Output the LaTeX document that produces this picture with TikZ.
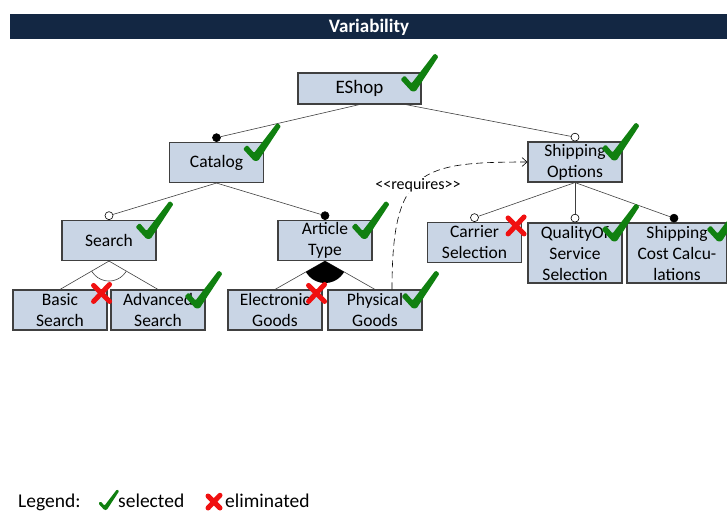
\documentclass[tikz,border=0pt]{standalone}
\usepackage{fontspec}
\setmainfont{Carlito}
\usetikzlibrary{arrows.meta,calc}
\definecolor{barblue}{RGB}{19,39,67}
\definecolor{featfill}{RGB}{201,213,229}
\definecolor{featline}{RGB}{64,64,64}
\definecolor{okgreen}{RGB}{16,128,16}
\definecolor{xred}{RGB}{240,16,16}

\begin{document}
\begin{tikzpicture}[x=1pt,y=-1pt]
		\tikzstyle{feat} = [draw=featline, fill=featfill, line width=1.1pt, minimum width=94pt, minimum height=40pt, inner sep=0pt, align=center, font=\fontsize{17.5}{21}\selectfont]
		\tikzstyle{rel} = [draw=featline, line width=0.6pt]
		\tikzstyle{mand} = [circle, draw=black, fill=black, line width=0.6pt, inner sep=0pt, minimum size=8pt, anchor=south]
		\tikzstyle{opt} = [mand, fill=white]
		\tikzstyle{lgd} = [anchor=base west, inner sep=0pt, font=\fontsize{19.5}{23}\selectfont]
		\tikzset{chk/.pic={\fill[okgreen, rounded corners=1.2pt] (-1,2) -- (-12,-10) -- (-8,-14) -- (-1,-6) -- (22,-36) -- (26,-33) -- (3,2) -- cycle;},
			elim/.pic={\draw[xred, line width=5pt, line cap=round] (-8,-8) -- (8,8) (8,-9) -- (-8,8);}}
		\useasboundingbox (0,0) rectangle (727,511);
		\fill[barblue] (10,14) rectangle (740,39);
		\node[text=white, font=\fontsize{19}{23}\selectfont\bfseries] (title) at (369,27) {Variability};
		\node[feat, minimum width=123pt, minimum height=31pt, font=\fontsize{19}{22}\selectfont] (eshop) at (359.5,88.5) {EShop};
		\node[feat] (catalog) at (216.5,162.5) {Catalog};
		\node[feat] (shipopt) at (575,162) {Shipping\\Options};
		\node[feat] (search) at (109,240.5) {Search};
		\node[feat] (arttype) at (325,240.5) {Article\\Type};
		\node[feat] (carrier) at (474.5,242.5) {Carrier\\Selection};
		\node[feat, minimum height=60pt] (qos) at (575,253) {QualityOf\\Service\\Selection};
		\node[feat, minimum width=100pt, minimum height=60pt] (shipcost) at (677,253) {Shipping\\Cost Calcu-\\lations};
		\node[feat] (basic) at (60,310) {Basic\\Search};
		\node[feat] (adv) at (158,310) {Advanced\\Search};
		\node[feat] (elec) at (275,310) {Electronic\\Goods};
		\node[feat] (phys) at (375,310) {Physical\\Goods};
		\node[mand] (catalogdot) at (catalog.north) {};
		\node[opt] (shipoptdot) at (shipopt.north) {};
		\node[opt] (searchdot) at (search.north) {};
		\node[mand] (arttypedot) at (arttype.north) {};
		\node[opt] (carrierdot) at (carrier.north) {};
		\node[opt] (qosdot) at (qos.north) {};
		\node[mand] (shipcostdot) at ([xshift=-3]shipcost.north) {};
		\draw[rel] (eshop.south) -- (catalogdot);
		\draw[rel] ([xshift=46]eshop.south) -- (shipoptdot);
		\draw[rel] (catalog.south) -- (searchdot);
		\draw[rel] (catalog.south) -- (arttypedot);
		\draw[rel] (shipopt.south) -- (carrierdot);
		\draw[rel] (shipopt.south) -- (qosdot);
		\draw[rel] (shipopt.south) -- (shipcostdot);
		\draw[rel] (search.south) -- (basic.north);
		\draw[rel] (search.south) -- (adv.north);
		\draw[rel] (arttype.south) -- (elec.north);
		\draw[rel] (arttype.south) -- (phys.north);
		\begin{scope}
			\clip (search.south) -- (basic.north) -- (adv.north) -- cycle;
			\draw[rel] (search.south) circle (20);
		\end{scope}
		\begin{scope}
			\clip (arttype.south) -- (elec.north) -- (phys.north) -- cycle;
			\fill (arttype.south) circle (22);
		\end{scope}
		\draw[rel, draw=black, dash pattern=on 7pt off 4pt, -{Straight Barb[length=5pt,width=9pt]}] ([xshift=17]phys.north) .. controls +(0,-120) and +(-108,0) .. (shipopt.west);
		\node[fill=white, inner sep=1pt, font=\fontsize{16}{19}\selectfont] (reqlabel) at (418,185) {<\kern0pt<requires>\kern0pt>};
		\foreach \f in {eshop,catalog,shipopt,search,arttype,qos,shipcost,adv,phys}
			\pic at ($(\f.north east)+(-9,17)$) {chk};
		\foreach \f in {basic,carrier,elec}
			\pic at ($(\f.north east)+(-6,4)$) {elim};
		\node[lgd] (legend) at (18,507) {\underline{Legend:}};
		\pic[scale=.55] at (105,509) {chk};
		\node[lgd] (seltxt) at (118,507) {selected};
		\pic[scale=.75] at (214,502) {elim};
		\node[lgd] (elimtxt) at (225,507) {eliminated};
		\end{tikzpicture}
\end{document}
